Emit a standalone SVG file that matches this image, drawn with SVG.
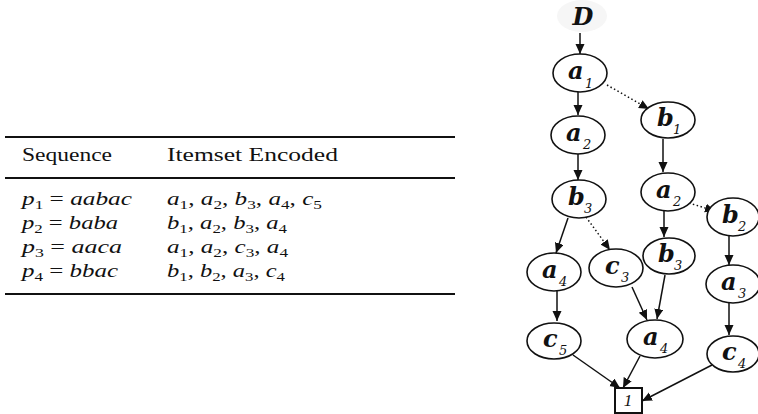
<svg xmlns="http://www.w3.org/2000/svg" width="758" height="414" viewBox="0 0 758 414">
<style>
.rule{stroke:#111;stroke-width:2}
.hd{font-family:"Liberation Serif",serif;font-size:19px;fill:#111}
.m{font-family:"Liberation Serif",serif;font-size:19px;fill:#111}
.i{font-style:italic}
.s{font-size:13px}
.nd{fill:#fff;stroke:#111;stroke-width:1.6}
.lt{font-family:"DejaVu Serif",serif;font-size:24px;font-weight:bold;font-style:italic;fill:#111}
.sb{font-family:"DejaVu Serif",serif;font-size:13px;font-style:italic;fill:#111}
.cn{stroke:#111;stroke-width:1.5;fill:none;marker-end:url(#ah)}
.dt{stroke-dasharray:1.5 2.5}
</style>
<defs>
<marker id="ah" markerUnits="userSpaceOnUse" markerWidth="11" markerHeight="10" refX="10" refY="4.5" orient="auto">
<path d="M0,0 L10,4.5 L0,9 z" fill="#111"/>
</marker>
</defs>
<rect width="758" height="414" fill="#fff"/>

<g id="table">
<line class="rule" x1="5" y1="137" x2="455" y2="137"/>
<line class="rule" x1="5" y1="178" x2="455" y2="178"/>
<line class="rule" x1="5" y1="294" x2="455" y2="294"/>
<text class="hd" x="22" y="161" textLength="90" lengthAdjust="spacingAndGlyphs">Sequence</text>
<text class="hd" x="167" y="161" textLength="171" lengthAdjust="spacingAndGlyphs">Itemset Encoded</text>

<text class="m" x="22" y="205" textLength="110" lengthAdjust="spacingAndGlyphs"><tspan class="i">p</tspan><tspan class="s" dy="4">1</tspan><tspan dy="-4"> = </tspan><tspan class="i">aabac</tspan></text>
<text class="m" x="22" y="229" textLength="96" lengthAdjust="spacingAndGlyphs"><tspan class="i">p</tspan><tspan class="s" dy="4">2</tspan><tspan dy="-4"> = </tspan><tspan class="i">baba</tspan></text>
<text class="m" x="22" y="253" textLength="100" lengthAdjust="spacingAndGlyphs"><tspan class="i">p</tspan><tspan class="s" dy="4">3</tspan><tspan dy="-4"> = </tspan><tspan class="i">aaca</tspan></text>
<text class="m" x="22" y="277" textLength="96" lengthAdjust="spacingAndGlyphs"><tspan class="i">p</tspan><tspan class="s" dy="4">4</tspan><tspan dy="-4"> = </tspan><tspan class="i">bbac</tspan></text>

<text class="m" x="167" y="205" textLength="155" lengthAdjust="spacingAndGlyphs"><tspan class="i">a</tspan><tspan class="s" dy="4">1</tspan><tspan dy="-4">, </tspan><tspan class="i">a</tspan><tspan class="s" dy="4">2</tspan><tspan dy="-4">, </tspan><tspan class="i">b</tspan><tspan class="s" dy="4">3</tspan><tspan dy="-4">, </tspan><tspan class="i">a</tspan><tspan class="s" dy="4">4</tspan><tspan dy="-4">, </tspan><tspan class="i">c</tspan><tspan class="s" dy="4">5</tspan></text>
<text class="m" x="167" y="229" textLength="120" lengthAdjust="spacingAndGlyphs"><tspan class="i">b</tspan><tspan class="s" dy="4">1</tspan><tspan dy="-4">, </tspan><tspan class="i">a</tspan><tspan class="s" dy="4">2</tspan><tspan dy="-4">, </tspan><tspan class="i">b</tspan><tspan class="s" dy="4">3</tspan><tspan dy="-4">, </tspan><tspan class="i">a</tspan><tspan class="s" dy="4">4</tspan></text>
<text class="m" x="167" y="253" textLength="121" lengthAdjust="spacingAndGlyphs"><tspan class="i">a</tspan><tspan class="s" dy="4">1</tspan><tspan dy="-4">, </tspan><tspan class="i">a</tspan><tspan class="s" dy="4">2</tspan><tspan dy="-4">, </tspan><tspan class="i">c</tspan><tspan class="s" dy="4">3</tspan><tspan dy="-4">, </tspan><tspan class="i">a</tspan><tspan class="s" dy="4">4</tspan></text>
<text class="m" x="167" y="277" textLength="118" lengthAdjust="spacingAndGlyphs"><tspan class="i">b</tspan><tspan class="s" dy="4">1</tspan><tspan dy="-4">, </tspan><tspan class="i">b</tspan><tspan class="s" dy="4">2</tspan><tspan dy="-4">, </tspan><tspan class="i">a</tspan><tspan class="s" dy="4">3</tspan><tspan dy="-4">, </tspan><tspan class="i">c</tspan><tspan class="s" dy="4">4</tspan></text>
</g>

<g id="connectors">
<path class="cn" d="M580,33 L580,54"/>
<path class="cn" d="M578,92 L578,115"/>
<path class="cn dt" d="M607,85 L649,109"/>
<path class="cn" d="M578,154 L578,180"/>
<path class="cn" d="M663,139 L663,172"/>
<path class="cn" d="M664,200 L664,237"/>
<path class="cn dt" d="M689,203 L715,211"/>
<path class="cn" d="M568,218 L556,253"/>
<path class="cn dt" d="M586,217 L610,250"/>
<path class="cn" d="M729,236 L729,265"/>
<path class="cn" d="M557,291 L557,321"/>
<path class="cn" d="M632,287 L647,320"/>
<path class="cn" d="M665,275 L657,319"/>
<path class="cn" d="M729,303 L729,335"/>
<path class="cn" d="M573,355 L620,388"/>
<path class="cn" d="M640,356 L623,388"/>
<path class="cn" d="M712,365 L642,401"/>
</g>

<g id="nD"><ellipse cx="582" cy="16" rx="25" ry="16" fill="#f6f6f6"/><text class="lt" x="583" y="25" font-size="21" text-anchor="middle">D</text></g>
<g id="n_a1"><ellipse class="nd" cx="580" cy="73" rx="27" ry="19"/><text class="lt" x="568" y="79">a</text><text class="sb" x="585" y="88">1</text></g>
<g id="n_a2L"><ellipse class="nd" cx="578" cy="135" rx="27" ry="19"/><text class="lt" x="566" y="141">a</text><text class="sb" x="583" y="149">2</text></g>
<g id="n_b1"><ellipse class="nd" cx="668" cy="120" rx="27" ry="18"/><text class="lt" x="657" y="126">b</text><text class="sb" x="673" y="134">1</text></g>
<g id="n_b3L"><ellipse class="nd" cx="579" cy="199" rx="27" ry="19"/><text class="lt" x="568" y="205">b</text><text class="sb" x="584" y="213">3</text></g>
<g id="n_a2R"><ellipse class="nd" cx="668" cy="192" rx="27" ry="19"/><text class="lt" x="656" y="198">a</text><text class="sb" x="673" y="206">2</text></g>
<g id="n_b2"><ellipse class="nd" cx="733" cy="217" rx="26" ry="19"/><text class="lt" x="722" y="223">b</text><text class="sb" x="738" y="231">2</text></g>
<g id="n_b3R"><ellipse class="nd" cx="669" cy="256" rx="26" ry="18"/><text class="lt" x="658" y="262">b</text><text class="sb" x="674" y="270">3</text></g>
<g id="n_a4L"><ellipse class="nd" cx="554" cy="272" rx="27" ry="19"/><text class="lt" x="542" y="278">a</text><text class="sb" x="559" y="286">4</text></g>
<g id="n_c3"><ellipse class="nd" cx="616" cy="268" rx="27" ry="19"/><text class="lt" x="605" y="274">c</text><text class="sb" x="621" y="282">3</text></g>
<g id="n_a3"><ellipse class="nd" cx="733" cy="284" rx="27" ry="19"/><text class="lt" x="721" y="290">a</text><text class="sb" x="738" y="298">3</text></g>
<g id="n_c5"><ellipse class="nd" cx="554" cy="341" rx="27" ry="18"/><text class="lt" x="543" y="347">c</text><text class="sb" x="559" y="355">5</text></g>
<g id="n_a4M"><ellipse class="nd" cx="655" cy="339" rx="28" ry="19"/><text class="lt" x="643" y="345">a</text><text class="sb" x="660" y="353">4</text></g>
<g id="n_c4"><ellipse class="nd" cx="733" cy="354" rx="26" ry="18"/><text class="lt" x="722" y="360">c</text><text class="sb" x="738" y="368">4</text></g>
<g id="n_sink"><rect x="615" y="388" width="27" height="25" fill="#fff" stroke="#111" stroke-width="2"/><text x="628" y="406" font-family="Liberation Serif, serif" font-size="17" font-style="italic" text-anchor="middle" fill="#111">1</text></g>
</svg>
